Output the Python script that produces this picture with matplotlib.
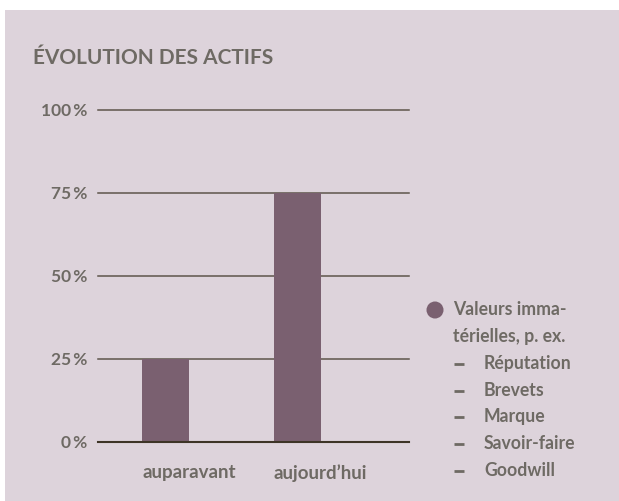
import matplotlib
matplotlib.use("Agg")
import matplotlib.pyplot as plt
from matplotlib.patches import Rectangle

# data
categories = ["auparavant", "aujourd\u2019hui"]
values = [25, 75]
yticks = [0, 25, 50, 75, 100]
ytick_labels = ["0\u2009%", "25\u2009%", "50\u2009%", "75\u2009%", "100\u2009%"]
title = "ÉVOLUTION DES ACTIFS"
legend_head = ["Valeurs imma-", "térielles, p. ex."]
legend_items = ["Réputation", "Brevets", "Marque", "Savoir-faire", "Goodwill"]

bg = "#DDD3DB"
bar_col = "#7A6070"
txt = "#6E6A64"
grid_col = "#5E554B"
zero_col = "#3D3426"

plt.rcParams['font.family'] = ['Lato', 'DejaVu Sans']

W, H = 619, 502
fig = plt.figure(figsize=(W / 100, H / 100), dpi=100)
fig.patch.set_facecolor("white")

# background layer in pixel coords (y down)
lg = fig.add_axes([0, 0, 1, 1], zorder=0)
lg.set_axis_off()
lg.set_xlim(0, W)
lg.set_ylim(H, 0)
lg.add_patch(Rectangle((5, 11), W, H, facecolor=bg, edgecolor="none", zorder=0))

# chart axes: x 98..409 px, y 0% at 443, 100% at 111
ax = fig.add_axes([98 / W, (H - 443) / H, (409 - 98) / W, (443 - 111) / H], zorder=1)
ax.set_facecolor("none")
for s in ax.spines.values():
    s.set_visible(False)

bw = 47 / 132
xs = range(len(categories))
ax.set_xlim(-(165.5 - 98) / 132, (409 - 165.5) / 132)
ax.set_ylim(0, 100)

for t in yticks[1:]:
    ax.axhline(t, color=grid_col, lw=1.1, zorder=1, clip_on=False)
ax.bar(xs, values, width=bw, color=bar_col, zorder=2)
ax.axhline(0, color=zero_col, lw=1.5, zorder=3, clip_on=False)

ax.set_xticks([])
ax.set_yticks([])
for t, lab in zip(yticks, ytick_labels):
    ax.text(-(165.5 - 87) / 132, t, lab, ha="right", va="center", fontsize=12.5,
            fontweight="bold", color=txt)
for x, lab in zip(xs, categories):
    ax.text(x - bw / 2, -9, lab, ha="left", va="center", fontsize=13.5,
            fontweight="bold", color=txt)

lg.text(33, 58, title, ha="left", va="center", fontsize=15,
        fontweight="bold", color=txt)

# legend
lg.scatter([435], [311], s=150, color=bar_col, edgecolors="none", zorder=2)
y = 310
for line in legend_head:
    lg.text(453, y, line, ha="left", va="center", fontsize=12.7, fontweight="bold", color=txt)
    y += 26.7
for item in legend_items:
    lg.plot([454, 464], [y + 1.5, y + 1.5], color=txt, lw=2, solid_capstyle="butt")
    lg.text(484, y, item, ha="left", va="center", fontsize=12.7, fontweight="bold", color=txt)
    y += 26.7

fig.savefig("out.png", dpi=100)
